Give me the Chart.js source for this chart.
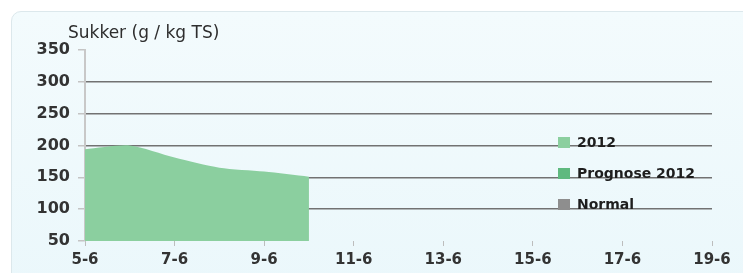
<!DOCTYPE html>
<html>
<head>
<meta charset="utf-8">
<script src="https://cdn.jsdelivr.net/npm/chart.js@4"></script>
<style>
    html, body { margin: 0; padding: 0; background: #fff; }
    #wrap { position: relative; width: 743px; height: 273px; overflow: hidden; }
    #panel {
        position: absolute; left: 11px; top: 11px; width: 760px; height: 300px;
        border: 1px solid #dce8ec; border-radius: 10px;
        background: linear-gradient(#f3fbfd, #eaf7fb);
    }
    canvas { position: absolute; left: 0; top: 0; }
</style>
</head>
<body>
<div id="wrap">
    <div id="panel"></div>
    <canvas id="chart" width="743" height="273"></canvas>
</div>
<script>
// Sukker – målinger 2012 (dag i juni)
const days = [5, 6, 7, 8, 9, 10];
const sugar2012 = [194, 200, 181, 165, 159, 151];
const prognose2012 = [];
const normal = [];
const seriesLabels = ['2012', 'Prognose 2012', 'Normal'];
const seriesColors = ['#8bcf9f', '#5fb97f', '#8e8e8e'];

const yMin = 50, yMax = 350, yStep = 50;
const xMin = 5, xMax = 19, xStep = 2;

const toPoints = (xs, ys) => ys.map((v, i) => ({ x: xs[i], y: v }));

// tittel oppe til venstre
const titlePlugin = {
    id: 'yTitle',
    afterDraw(chart) {
        const c = chart.ctx;
        c.save();
        c.font = '17px "DejaVu Sans"';
        c.fillStyle = '#2e2e2e';
        c.textBaseline = 'alphabetic';
        c.fillText('Sukker (g / kg TS)', 68, 38);
        c.restore();
    }
};

// legende inne i plottet
const legendPlugin = {
    id: 'innerLegend',
    afterDatasetsDraw(chart) {
        const c = chart.ctx;
        c.save();
        c.font = 'bold 14px "DejaVu Sans"';
        c.textBaseline = 'middle';
        chart.data.datasets.forEach((ds, i) => {
            const y = 142 + i * 31;
            c.fillStyle = ds.backgroundColor;
            c.fillRect(558, y - 5, 12, 11);
            c.fillStyle = '#1e1e1e';
            c.fillText(ds.label, 577, y + 1);
        });
        c.restore();
    }
};

new Chart(document.getElementById('chart'), {
    type: 'line',
    data: {
        datasets: [
            { label: seriesLabels[0], data: toPoints(days, sugar2012), backgroundColor: seriesColors[0],
              borderColor: seriesColors[0], borderWidth: 0, fill: 'start', pointRadius: 0, tension: 0.25 },
            { label: seriesLabels[1], data: prognose2012, backgroundColor: seriesColors[1],
              borderColor: seriesColors[1], fill: 'start', pointRadius: 0 },
            { label: seriesLabels[2], data: normal, backgroundColor: seriesColors[2],
              borderColor: seriesColors[2], pointRadius: 0 }
        ]
    },
    options: {
        responsive: false,
        animation: false,
        layout: { padding: { top: 50, right: 31, bottom: 0, left: 0 } },
        plugins: { legend: { display: false }, tooltip: { enabled: false } },
        scales: {
            x: {
                type: 'linear', min: xMin, max: xMax,
                afterFit: s => { s.height = 32; },
                ticks: { stepSize: xStep, callback: v => v + '-6', color: '#333',
                         font: { family: 'DejaVu Sans', size: 15, weight: 'bold' }, padding: 5, maxRotation: 0 },
                grid: { drawOnChartArea: false, tickLength: 5, tickColor: '#bdbdbd' },
                border: { display: false }
            },
            y: {
                min: yMin, max: yMax,
                afterFit: s => { s.width = 85; },
                ticks: { stepSize: yStep, color: '#333',
                         font: { family: 'DejaVu Sans', size: 16, weight: 'bold' }, padding: 8 },
                grid: {
                    color: ctx => (ctx.tick && (ctx.tick.value === yMin || ctx.tick.value === yMax)) ? 'rgba(0,0,0,0)' : '#727272',
                    lineWidth: 1.5,
                    tickLength: 7, tickColor: '#c4c4c4'
                },
                border: { display: true, color: '#c8c8c8', width: 2 }
            }
        }
    },
    plugins: [titlePlugin, legendPlugin]
});
</script>
</body>
</html>
